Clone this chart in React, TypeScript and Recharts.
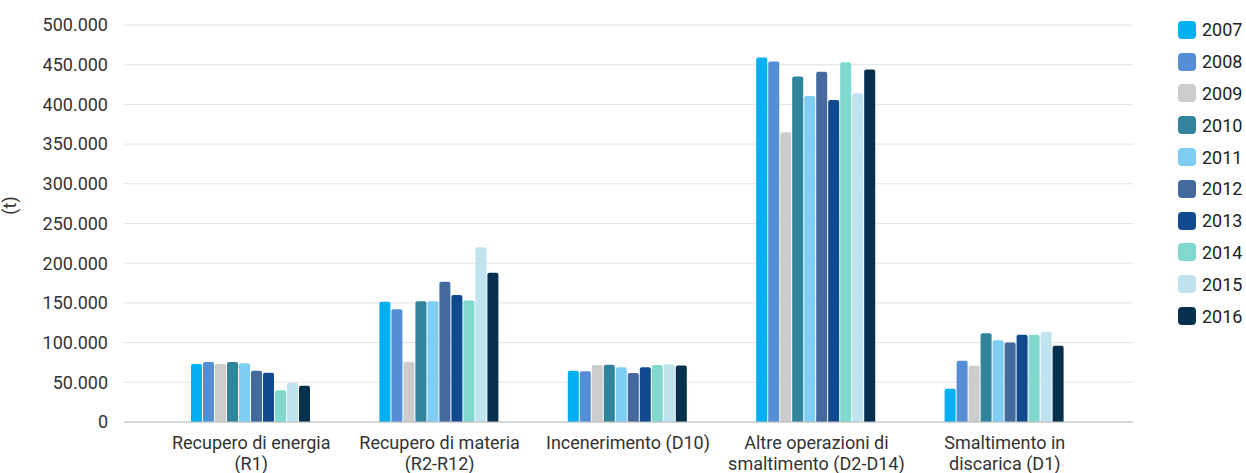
import { BarChart, Bar, XAxis, YAxis, CartesianGrid, Legend } from "recharts";

const categories = [
  "Recupero di energia\n(R1)",
  "Recupero di materia\n(R2-R12)",
  "Incenerimento (D10)",
  "Altre operazioni di\nsmaltimento (D2-D14)",
  "Smaltimento in\ndiscarica (D1)",
];

const years = ["2007", "2008", "2009", "2010", "2011", "2012", "2013", "2014", "2015", "2016"];

const v2007 = [73000, 151500, 64600, 459000, 42000];
const v2008 = [75500, 142000, 64000, 454000, 77000];
const v2009 = [73000, 76000, 71800, 365000, 71000];
const v2010 = [75500, 152000, 72000, 435000, 111700];
const v2011 = [74000, 152000, 69000, 410600, 103000];
const v2012 = [64600, 176700, 61700, 441000, 100000];
const v2013 = [62000, 160000, 69000, 405500, 110000];
const v2014 = [40000, 153000, 71800, 453000, 110000];
const v2015 = [49000, 220000, 72600, 414000, 113700];
const v2016 = [45700, 188000, 71300, 444000, 96000];

const yTicks = [0, 50000, 100000, 150000, 200000, 250000, 300000, 350000, 400000, 450000, 500000];

const colors = [
  "#00b0f0", "#558ed5", "#cccccc", "#31849b", "#7fcdf3",
  "#43699d", "#114a8e", "#80d8cf", "#c0e4ef", "#07304f",
];

const series = [v2007, v2008, v2009, v2010, v2011, v2012, v2013, v2014, v2015, v2016];

const data = categories.map((name, i) => {
  const row: Record<string, string | number> = { name };
  years.forEach((y, j) => {
    row[y] = series[j][i];
  });
  return row;
});

const FONT = "Roboto, 'Noto Sans', sans-serif";

const fmt = (v: number) => String(v).replace(/\B(?=(\d{3})+(?!\d))/g, ".");

function CategoryTick({ x, y, payload }: any) {
  const lines = String(payload.value).split("\n");
  return (
    <text x={x} y={y} textAnchor="middle" fill="#333" fontSize={18} fontFamily={FONT}>
      {lines.map((l, i) => (
        <tspan key={i} x={x} dy={i === 0 ? 27 : 21}>
          {l}
        </tspan>
      ))}
    </text>
  );
}

function YearLegend() {
  return (
    <div style={{ fontFamily: FONT }}>
      {years.map((y, i) => (
        <div key={y} style={{ display: "flex", alignItems: "center", height: 31.8 }}>
          <span
            style={{
              width: 18,
              height: 18,
              borderRadius: 4,
              background: colors[i],
              display: "inline-block",
              marginRight: 6,
            }}
          />
          <span style={{ fontSize: 18, color: "#222" }}>{y}</span>
        </div>
      ))}
    </div>
  );
}

export default function App() {
  return (
    <div style={{ position: "absolute", left: 0, top: 0, background: "#fff" }}>
      <BarChart
        width={1246}
        height={473}
        data={data}
        margin={{ top: 25, right: 45, left: 0, bottom: 0 }}
        barCategoryGap={34}
        barGap={1}
      >
        <CartesianGrid vertical={false} stroke="#e4e4e4" />
        <XAxis
          dataKey="name"
          interval={0}
          height={51}
          tickLine={false}
          tickSize={0}
          tickMargin={0}
          axisLine={{ stroke: "#bdbdbd" }}
          padding={{ left: 33, right: 34 }}
          tick={<CategoryTick />}
        />
        <YAxis
          width={124}
          domain={[0, 500000]}
          ticks={yTicks}
          tickFormatter={fmt}
          axisLine={false}
          tickLine={false}
          tickMargin={10}
          tick={{ fontSize: 18, fill: "#333", fontFamily: FONT }}
          label={{
            value: "(t)",
            angle: -90,
            position: "insideLeft",
            offset: 10,
            dy: -18,
            style: { fontSize: 18, fill: "#333", fontFamily: FONT, textAnchor: "middle" },
          }}
        />
        <Legend
          layout="vertical"
          verticalAlign="top"
          align="right"
          content={<YearLegend />}
          wrapperStyle={{ position: "absolute", left: 1178, top: 14, width: 68 }}
        />
        {years.map((y, i) => (
          <Bar key={y} dataKey={y} fill={colors[i]} radius={[2, 2, 0, 0]} isAnimationActive={false} />
        ))}
      </BarChart>
    </div>
  );
}
